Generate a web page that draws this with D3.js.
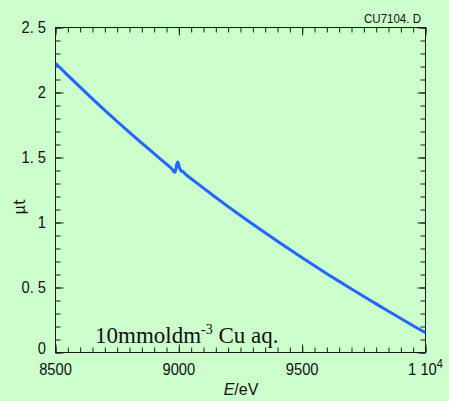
<!DOCTYPE html>
<html>
<head>
<meta charset="utf-8">
<script src="https://cdn.jsdelivr.net/npm/d3@7"></script>
<style>
  html, body { margin: 0; padding: 0; background: #ccffcc; }
  svg { display: block; }
</style>
</head>
<body>
<svg id="chart" width="449" height="401"></svg>
<script>
// Cu K-edge transmission scan of 10 mmol dm^-3 Cu aqueous solution
const energies = [8500, 8550, 8600, 8650, 8700, 8750, 8800, 8850, 8900, 8950,
  8965, 8975, 8980, 8984, 8988, 8992, 8995, 8998, 9002, 9007, 9012, 9017, 9022, 9030,
  9050, 9100, 9150, 9200, 9250, 9300, 9350, 9400, 9450, 9500, 9550, 9600, 9650,
  9700, 9750, 9800, 9850, 9900, 9950, 10000];
const muT = [2.225, 2.132, 2.041, 1.951, 1.863, 1.777, 1.693, 1.610, 1.529, 1.449,
  1.425, 1.405, 1.390, 1.386, 1.412, 1.450, 1.466, 1.456, 1.425, 1.403, 1.392, 1.393, 1.381, 1.366,
  1.337, 1.264, 1.192, 1.122, 1.054, 0.987, 0.921, 0.856, 0.792, 0.729, 0.667, 0.606, 0.547,
  0.489, 0.431, 0.374, 0.317, 0.261, 0.206, 0.152];

const xTickValues = [8500, 9000, 9500, 10000];
const xTickLabels = ["8500", "9000", "9500", "1 10|4"];
const yTickValues = [0, 0.5, 1, 1.5, 2, 2.5];
const yTickLabels = ["0", "0. 5", "1", "1. 5", "2", "2. 5"];

const fileTag = "CU7104. D";
const sampleLabel = ["10mmoldm", "-3", " Cu aq."];

const W = 449, H = 401;
const plot = { left: 55.5, right: 425.5, top: 27.5, bottom: 352.5 };

const svg = d3.select("#chart");
svg.append("rect").attr("width", W).attr("height", H).attr("fill", "#ccffcc");

const x = d3.scaleLinear().domain([8500, 10000]).range([plot.left, plot.right]);
const y = d3.scaleLinear().domain([0, 2.5]).range([plot.bottom, plot.top]);

const tickFont = "'Liberation Sans', Arial, sans-serif";
const axisColor = "#1a1a1a";
const textColor = "#111";
const squeeze = 0.92; // condensed look for the numeric labels

// minor ticks on all four sides
const xMinor = d3.range(8500, 10001, 50);
const yMinor = d3.range(0, 2.501, 0.1);

function styleAxis(g) {
  g.selectAll("path").remove();
  g.selectAll("line").attr("stroke", axisColor).attr("stroke-width", 1);
}

svg.append("g").attr("transform", `translate(0,${plot.bottom})`)
  .call(d3.axisBottom(x).tickValues(xMinor).tickSize(-5).tickFormat("")).call(styleAxis);
svg.append("g").attr("transform", `translate(0,${plot.top})`)
  .call(d3.axisTop(x).tickValues(xMinor).tickSize(-5).tickFormat("")).call(styleAxis);
svg.append("g").attr("transform", `translate(${plot.left},0)`)
  .call(d3.axisLeft(y).tickValues(yMinor).tickSize(-5).tickFormat("")).call(styleAxis);
svg.append("g").attr("transform", `translate(${plot.right},0)`)
  .call(d3.axisRight(y).tickValues(yMinor).tickSize(-5).tickFormat("")).call(styleAxis);

// major ticks
svg.append("g").attr("transform", `translate(0,${plot.bottom})`)
  .call(d3.axisBottom(x).tickValues(xTickValues).tickSize(-8).tickFormat("")).call(styleAxis);
svg.append("g").attr("transform", `translate(0,${plot.top})`)
  .call(d3.axisTop(x).tickValues(xTickValues).tickSize(-8).tickFormat("")).call(styleAxis);
svg.append("g").attr("transform", `translate(${plot.left},0)`)
  .call(d3.axisLeft(y).tickValues(yTickValues).tickSize(-8).tickFormat("")).call(styleAxis);
svg.append("g").attr("transform", `translate(${plot.right},0)`)
  .call(d3.axisRight(y).tickValues(yTickValues).tickSize(-8).tickFormat("")).call(styleAxis);

// frame
svg.append("rect")
  .attr("x", plot.left).attr("y", plot.top)
  .attr("width", plot.right - plot.left).attr("height", plot.bottom - plot.top)
  .attr("fill", "none").attr("stroke", axisColor).attr("stroke-width", 1);

// x tick labels
const xl = svg.append("g").attr("font-family", tickFont).attr("font-size", 16).attr("fill", textColor);
xTickValues.forEach((v, i) => {
  const parts = xTickLabels[i].split("|");
  const t = xl.append("g").attr("transform", `translate(${x(v)},375) scale(${squeeze},1)`)
    .append("text").attr("text-anchor", "middle");
  t.append("tspan").text(parts[0]);
  if (parts[1]) t.append("tspan").attr("dy", -7).attr("font-size", 12).text(parts[1]);
});

// y tick labels
const yl = svg.append("g").attr("font-family", tickFont).attr("font-size", 16).attr("fill", textColor);
yTickValues.forEach((v, i) => {
  yl.append("g")
    .attr("transform", `translate(46,${y(v) - (v === 0 ? 4 : 0)}) scale(${squeeze},1)`)
    .append("text")
    .attr("dy", "0.35em").attr("text-anchor", "end")
    .text(yTickLabels[i]);
});

// axis titles
const xt = svg.append("text").attr("x", 241).attr("y", 395)
  .attr("text-anchor", "middle").attr("font-family", tickFont).attr("font-size", 16).attr("fill", textColor);
xt.append("tspan").attr("font-style", "italic").text("E");
xt.append("tspan").text("/eV");

svg.append("text")
  .attr("transform", "translate(25,207) rotate(-90)")
  .attr("text-anchor", "middle")
  .attr("font-family", "'Noto Sans CJK JP', 'DejaVu Sans', sans-serif")
  .attr("font-size", 15).attr("fill", textColor)
  .text("μt");

// file tag
svg.append("text").attr("x", 421).attr("y", 22.5).attr("text-anchor", "end")
  .attr("font-family", tickFont).attr("font-size", 13).attr("fill", textColor)
  .attr("textLength", 57).attr("lengthAdjust", "spacingAndGlyphs")
  .text(fileTag);

// sample label
const sl = svg.append("text").attr("x", 95).attr("y", 343)
  .attr("font-family", "'Liberation Serif', 'Times New Roman', serif")
  .attr("font-size", 23).attr("fill", textColor);
sl.append("tspan").text(sampleLabel[0]);
sl.append("tspan").attr("dy", -9).attr("font-size", 14).text(sampleLabel[1]);
sl.append("tspan").attr("dy", 9).text(sampleLabel[2]);

// absorption curve
svg.append("clipPath").attr("id", "plotClip").append("rect")
  .attr("x", plot.left).attr("y", plot.top)
  .attr("width", plot.right - plot.left).attr("height", plot.bottom - plot.top);

const line = d3.line()
  .x((d, i) => x(energies[i]))
  .y((d, i) => y(muT[i]))
  .curve(d3.curveMonotoneX);

svg.append("path")
  .attr("d", line(energies))
  .attr("fill", "none")
  .attr("stroke", "#2266ff")
  .attr("stroke-width", 3)
  .attr("stroke-linejoin", "round")
  .attr("clip-path", "url(#plotClip)");
</script>
</body>
</html>
